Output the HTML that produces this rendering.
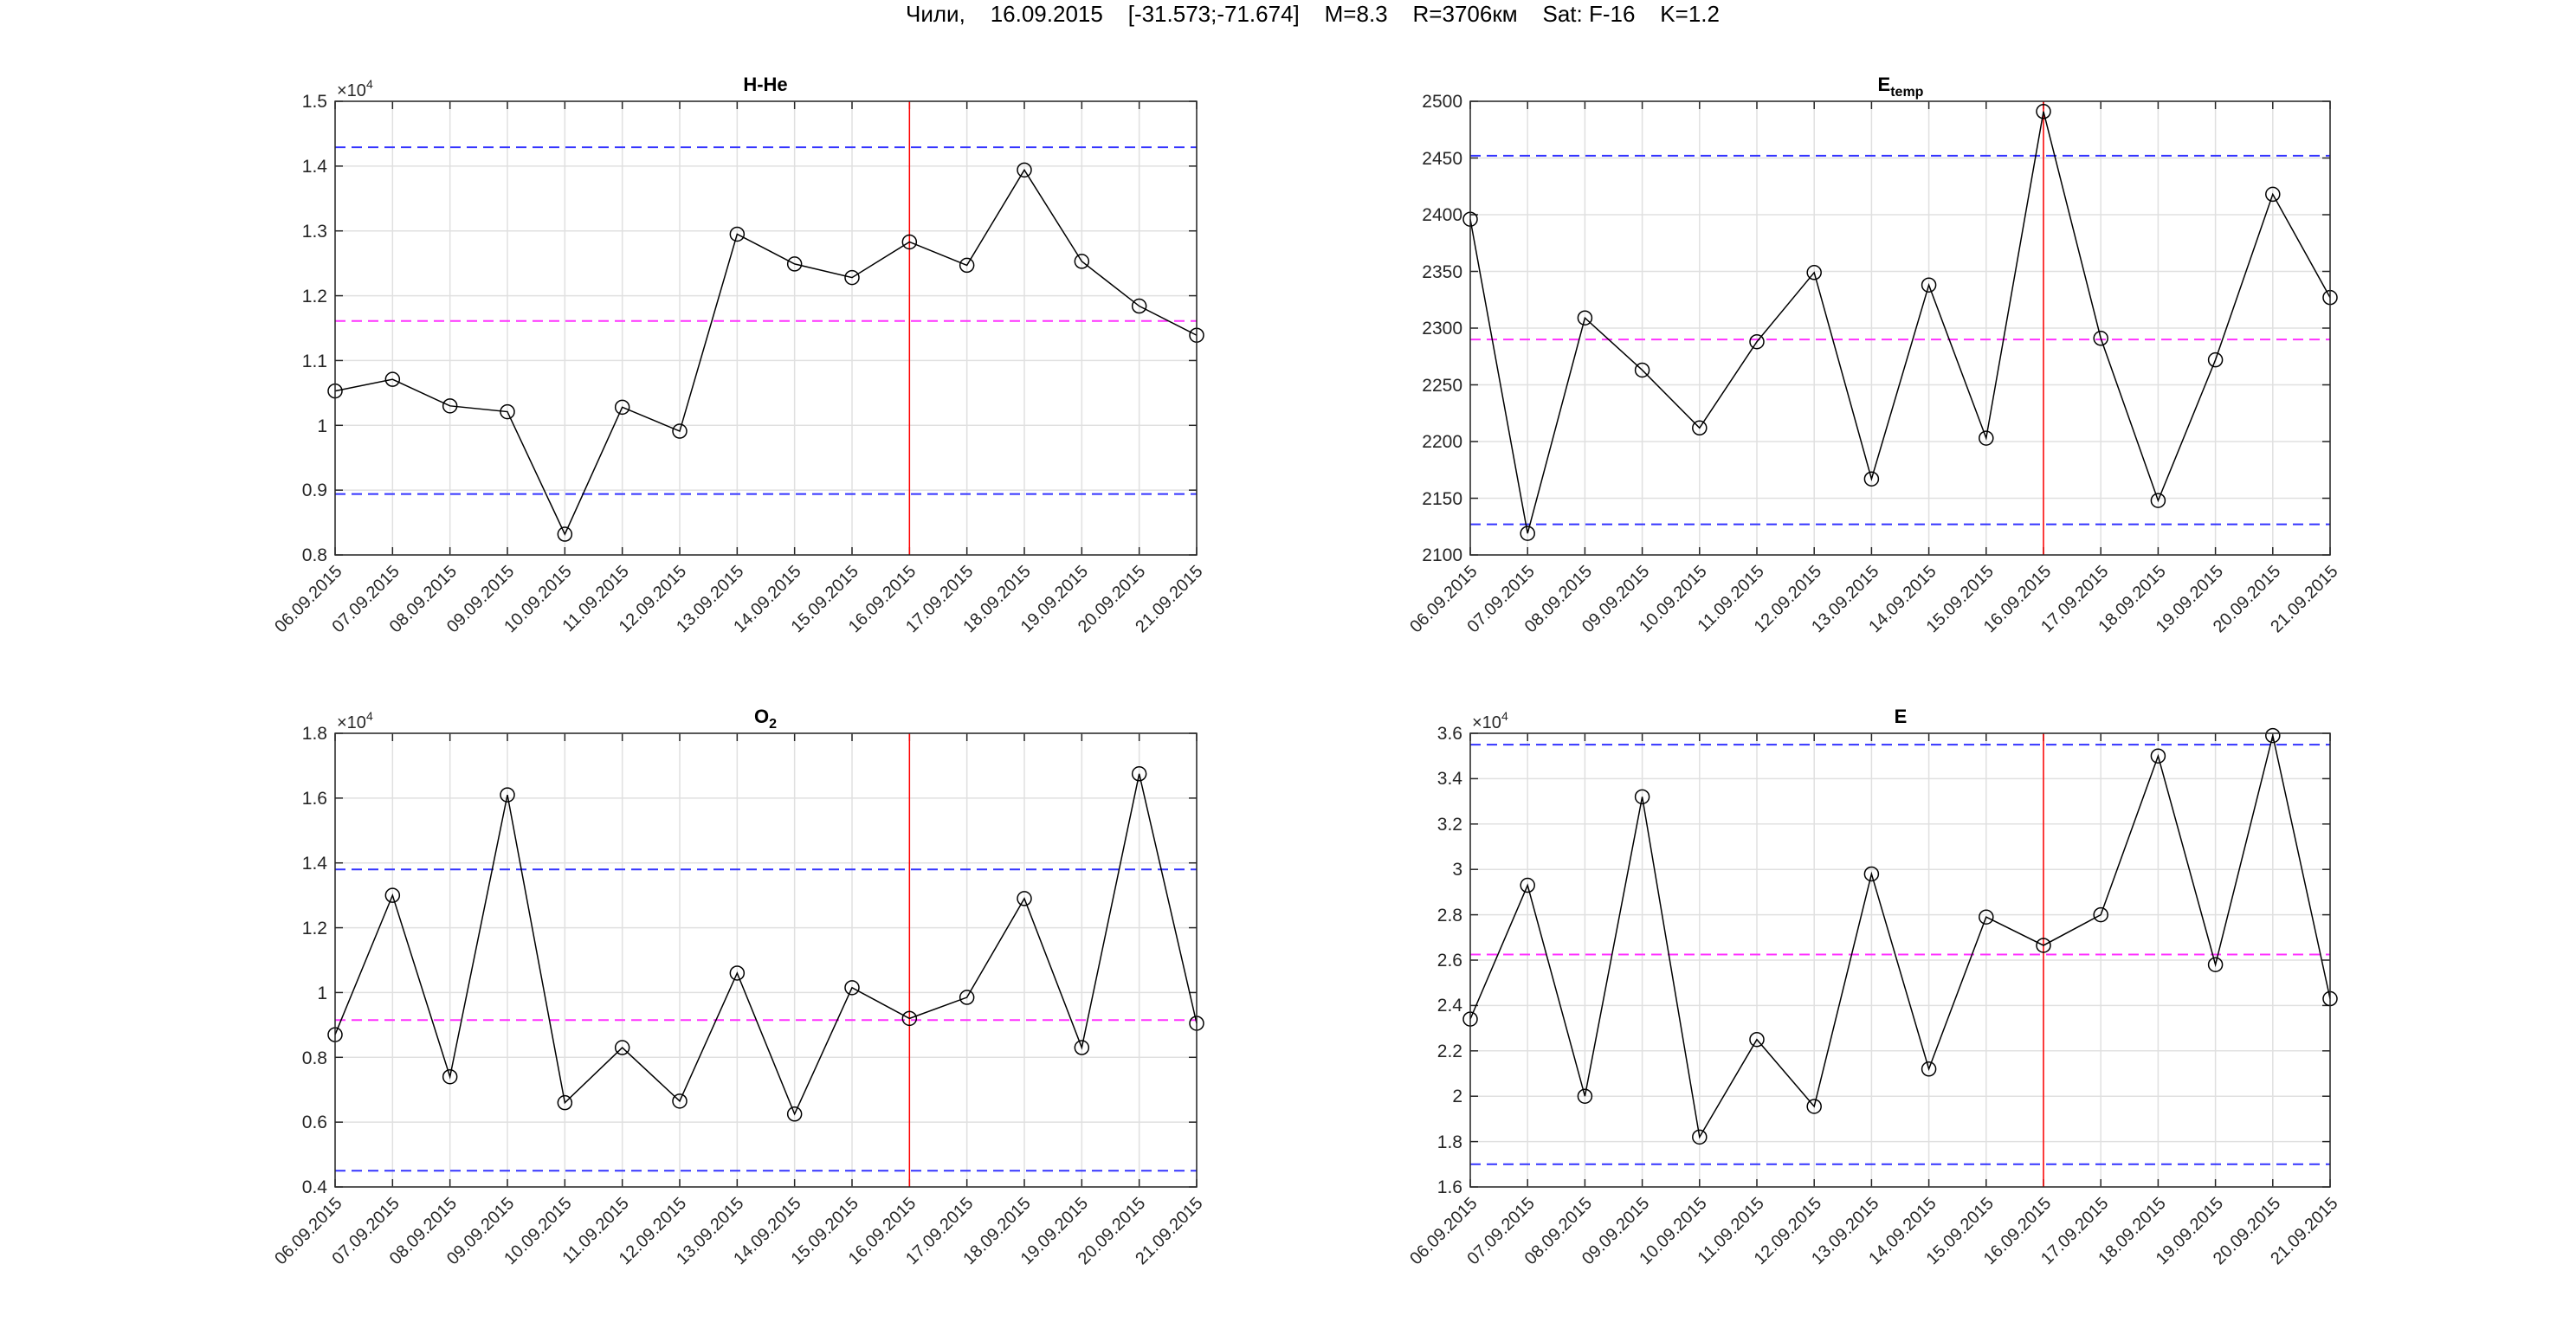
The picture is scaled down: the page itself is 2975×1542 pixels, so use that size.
<!DOCTYPE html>
<html><head><meta charset="utf-8"><style>
html,body{margin:0;padding:0;background:#fff;}
svg{display:block;font-family:"Liberation Sans",sans-serif;}
.yl{font-size:21px;fill:#262626;text-anchor:end;}
.dl{font-size:20px;fill:#262626;text-anchor:end;}
.tt{font-size:22px;font-weight:bold;fill:#000;text-anchor:middle;}
.ex{font-size:20px;fill:#262626;}
</style></head><body>
<div style="position:relative;width:2975px;height:1542px">
<svg id="s" width="2975" height="1542" viewBox="0 0 2975 1542" xmlns="http://www.w3.org/2000/svg" style="position:absolute;left:0;top:0">
<text x="1516" y="25" style="font-size:26px;fill:#000;text-anchor:middle;white-space:pre" xml:space="preserve">Чили,    16.09.2015    [-31.573;-71.674]    M=8.3    R=3706км    Sat: F-16    K=1.2</text>

<g id="c0" transform="translate(387,117)">
<text class="tt" x="497" y="-12">H-He</text>
<text class="ex" x="2" y="-6">×10<tspan dy="-9" font-size="14">4</tspan></text>
<text class="yl" x="-9" y="531">0.8</text><text class="yl" x="-9" y="456">0.9</text><text class="yl" x="-9" y="382">1</text><text class="yl" x="-9" y="307">1.1</text><text class="yl" x="-9" y="232">1.2</text><text class="yl" x="-9" y="157">1.3</text><text class="yl" x="-9" y="82">1.4</text><text class="yl" x="-9" y="7">1.5</text>
</g>
<g id="c1" transform="translate(1698,117)">
<text class="tt" x="497" y="-12">E<tspan dy="6" font-size="16">temp</tspan></text>
<text class="yl" x="-9" y="531">2100</text><text class="yl" x="-9" y="466">2150</text><text class="yl" x="-9" y="400">2200</text><text class="yl" x="-9" y="335">2250</text><text class="yl" x="-9" y="269">2300</text><text class="yl" x="-9" y="204">2350</text><text class="yl" x="-9" y="138">2400</text><text class="yl" x="-9" y="73">2450</text><text class="yl" x="-9" y="7">2500</text>
</g>
<g id="c2" transform="translate(387,847)">
<text class="tt" x="497" y="-12">O<tspan dy="6" font-size="16">2</tspan></text>
<text class="ex" x="2" y="-6">×10<tspan dy="-9" font-size="14">4</tspan></text>
<text class="yl" x="-9" y="531">0.4</text><text class="yl" x="-9" y="456">0.6</text><text class="yl" x="-9" y="382">0.8</text><text class="yl" x="-9" y="307">1</text><text class="yl" x="-9" y="232">1.2</text><text class="yl" x="-9" y="157">1.4</text><text class="yl" x="-9" y="82">1.6</text><text class="yl" x="-9" y="7">1.8</text>
</g>
<g id="c3" transform="translate(1698,847)">
<text class="tt" x="497" y="-12">E</text>
<text class="ex" x="2" y="-6">×10<tspan dy="-9" font-size="14">4</tspan></text>
<text class="yl" x="-9" y="531">1.6</text><text class="yl" x="-9" y="479">1.8</text><text class="yl" x="-9" y="426">2</text><text class="yl" x="-9" y="374">2.2</text><text class="yl" x="-9" y="321">2.4</text><text class="yl" x="-9" y="269">2.6</text><text class="yl" x="-9" y="217">2.8</text><text class="yl" x="-9" y="164">3</text><text class="yl" x="-9" y="112">3.2</text><text class="yl" x="-9" y="59">3.4</text><text class="yl" x="-9" y="7">3.6</text>
</g>
</svg>
<svg width="2975" height="1542" style="position:absolute;left:0;top:0">
<g transform="translate(387,117)">
<text class="dl" transform="translate(9,544) rotate(-45)">06.09.2015</text><text class="dl" transform="translate(75.3,544) rotate(-45)">07.09.2015</text><text class="dl" transform="translate(141.5,544) rotate(-45)">08.09.2015</text><text class="dl" transform="translate(207.8,544) rotate(-45)">09.09.2015</text><text class="dl" transform="translate(274.1,544) rotate(-45)">10.09.2015</text><text class="dl" transform="translate(340.3,544) rotate(-45)">11.09.2015</text><text class="dl" transform="translate(406.6,544) rotate(-45)">12.09.2015</text><text class="dl" transform="translate(472.9,544) rotate(-45)">13.09.2015</text><text class="dl" transform="translate(539.1,544) rotate(-45)">14.09.2015</text><text class="dl" transform="translate(605.4,544) rotate(-45)">15.09.2015</text><text class="dl" transform="translate(671.7,544) rotate(-45)">16.09.2015</text><text class="dl" transform="translate(737.9,544) rotate(-45)">17.09.2015</text><text class="dl" transform="translate(804.2,544) rotate(-45)">18.09.2015</text><text class="dl" transform="translate(870.5,544) rotate(-45)">19.09.2015</text><text class="dl" transform="translate(936.7,544) rotate(-45)">20.09.2015</text><text class="dl" transform="translate(1003,544) rotate(-45)">21.09.2015</text>
</g>
<g transform="translate(1698,117)">
<text class="dl" transform="translate(9,544) rotate(-45)">06.09.2015</text><text class="dl" transform="translate(75.3,544) rotate(-45)">07.09.2015</text><text class="dl" transform="translate(141.5,544) rotate(-45)">08.09.2015</text><text class="dl" transform="translate(207.8,544) rotate(-45)">09.09.2015</text><text class="dl" transform="translate(274.1,544) rotate(-45)">10.09.2015</text><text class="dl" transform="translate(340.3,544) rotate(-45)">11.09.2015</text><text class="dl" transform="translate(406.6,544) rotate(-45)">12.09.2015</text><text class="dl" transform="translate(472.9,544) rotate(-45)">13.09.2015</text><text class="dl" transform="translate(539.1,544) rotate(-45)">14.09.2015</text><text class="dl" transform="translate(605.4,544) rotate(-45)">15.09.2015</text><text class="dl" transform="translate(671.7,544) rotate(-45)">16.09.2015</text><text class="dl" transform="translate(737.9,544) rotate(-45)">17.09.2015</text><text class="dl" transform="translate(804.2,544) rotate(-45)">18.09.2015</text><text class="dl" transform="translate(870.5,544) rotate(-45)">19.09.2015</text><text class="dl" transform="translate(936.7,544) rotate(-45)">20.09.2015</text><text class="dl" transform="translate(1003,544) rotate(-45)">21.09.2015</text>
</g>
<g transform="translate(387,847)">
<text class="dl" transform="translate(9,544) rotate(-45)">06.09.2015</text><text class="dl" transform="translate(75.3,544) rotate(-45)">07.09.2015</text><text class="dl" transform="translate(141.5,544) rotate(-45)">08.09.2015</text><text class="dl" transform="translate(207.8,544) rotate(-45)">09.09.2015</text><text class="dl" transform="translate(274.1,544) rotate(-45)">10.09.2015</text><text class="dl" transform="translate(340.3,544) rotate(-45)">11.09.2015</text><text class="dl" transform="translate(406.6,544) rotate(-45)">12.09.2015</text><text class="dl" transform="translate(472.9,544) rotate(-45)">13.09.2015</text><text class="dl" transform="translate(539.1,544) rotate(-45)">14.09.2015</text><text class="dl" transform="translate(605.4,544) rotate(-45)">15.09.2015</text><text class="dl" transform="translate(671.7,544) rotate(-45)">16.09.2015</text><text class="dl" transform="translate(737.9,544) rotate(-45)">17.09.2015</text><text class="dl" transform="translate(804.2,544) rotate(-45)">18.09.2015</text><text class="dl" transform="translate(870.5,544) rotate(-45)">19.09.2015</text><text class="dl" transform="translate(936.7,544) rotate(-45)">20.09.2015</text><text class="dl" transform="translate(1003,544) rotate(-45)">21.09.2015</text>
</g>
<g transform="translate(1698,847)">
<text class="dl" transform="translate(9,544) rotate(-45)">06.09.2015</text><text class="dl" transform="translate(75.3,544) rotate(-45)">07.09.2015</text><text class="dl" transform="translate(141.5,544) rotate(-45)">08.09.2015</text><text class="dl" transform="translate(207.8,544) rotate(-45)">09.09.2015</text><text class="dl" transform="translate(274.1,544) rotate(-45)">10.09.2015</text><text class="dl" transform="translate(340.3,544) rotate(-45)">11.09.2015</text><text class="dl" transform="translate(406.6,544) rotate(-45)">12.09.2015</text><text class="dl" transform="translate(472.9,544) rotate(-45)">13.09.2015</text><text class="dl" transform="translate(539.1,544) rotate(-45)">14.09.2015</text><text class="dl" transform="translate(605.4,544) rotate(-45)">15.09.2015</text><text class="dl" transform="translate(671.7,544) rotate(-45)">16.09.2015</text><text class="dl" transform="translate(737.9,544) rotate(-45)">17.09.2015</text><text class="dl" transform="translate(804.2,544) rotate(-45)">18.09.2015</text><text class="dl" transform="translate(870.5,544) rotate(-45)">19.09.2015</text><text class="dl" transform="translate(936.7,544) rotate(-45)">20.09.2015</text><text class="dl" transform="translate(1003,544) rotate(-45)">21.09.2015</text>
</g>
</svg>
</div>
<script>
var NS="http://www.w3.org/2000/svg";
function el(p,n,a){var e=document.createElementNS(NS,n);for(var k in a)e.setAttribute(k,a[k]);p.appendChild(e);return e;}
var charts=[
{W:995,min:0.8,max:1.5,n:7,d:[1.053,1.071,1.030,1.021,0.832,1.028,0.991,1.295,1.249,1.228,1.283,1.247,1.394,1.253,1.184,1.139],h:[[1.429,'#3333ff'],[1.161,'#ff33ff'],[0.894,'#3333ff']]},
{W:993,min:2100,max:2500,n:8,d:[2396,2119,2309,2263,2212,2288,2349,2167,2338,2203,2491,2291,2148,2272,2418,2327],h:[[2452,'#3333ff'],[2290,'#ff33ff'],[2127,'#3333ff']]},
{W:995,min:0.4,max:1.8,n:7,d:[0.87,1.30,0.74,1.61,0.66,0.83,0.665,1.06,0.625,1.015,0.92,0.985,1.29,0.83,1.675,0.905],h:[[1.38,'#3333ff'],[0.915,'#ff33ff'],[0.45,'#3333ff']]},
{W:993,min:1.6,max:3.6,n:10,d:[2.34,2.93,2.00,3.32,1.82,2.25,1.955,2.98,2.12,2.79,2.665,2.80,3.50,2.58,3.59,2.43],h:[[3.55,'#3333ff'],[2.625,'#ff33ff'],[1.70,'#3333ff']]}];
var H=524;
charts.forEach(function(c,ci){
 var W=c.W;
 var g=document.getElementById('c'+ci);
 var gg=document.createElementNS(NS,'g');g.insertBefore(gg,g.firstChild);
 function Y(v){return H-(v-c.min)/(c.max-c.min)*H;}
 for(var i=0;i<16;i++){var x=i*W/15;el(gg,'line',{x1:x,x2:x,y1:0,y2:H,stroke:'#e0e0e0','stroke-width':1.5});
   el(gg,'line',{x1:x,x2:x,y1:H,y2:H-9,stroke:'#262626','stroke-width':1.5});el(gg,'line',{x1:x,x2:x,y1:0,y2:9,stroke:'#262626','stroke-width':1.5});}
 for(var j=0;j<=c.n;j++){var y=j*H/c.n;el(gg,'line',{x1:0,x2:W,y1:y,y2:y,stroke:'#e0e0e0','stroke-width':1.5});
   el(gg,'line',{x1:0,x2:9,y1:y,y2:y,stroke:'#262626','stroke-width':1.5});el(gg,'line',{x1:W-9,x2:W,y1:y,y2:y,stroke:'#262626','stroke-width':1.5});}
 c.h.forEach(function(h){var y=Y(h[0]);el(gg,'line',{x1:0,x2:W,y1:y,y2:y,stroke:h[1],'stroke-width':2,'stroke-dasharray':'12,7'});});
 var vx=10*W/15;el(gg,'line',{x1:vx,x2:vx,y1:0,y2:H,stroke:'#ff0000','stroke-width':1.5});
 var pts=c.d.map(function(v,i){return (i*W/15)+','+Y(v);}).join(' ');
 el(gg,'polyline',{points:pts,fill:'none',stroke:'#000','stroke-width':1.5});
 c.d.forEach(function(v,i){el(gg,'circle',{cx:i*W/15,cy:Y(v),r:8,fill:'none',stroke:'#000','stroke-width':1.5});});
 el(gg,'rect',{x:0,y:0,width:W,height:H,fill:'none',stroke:'#262626','stroke-width':1.5});
});
</script>
</body></html>
